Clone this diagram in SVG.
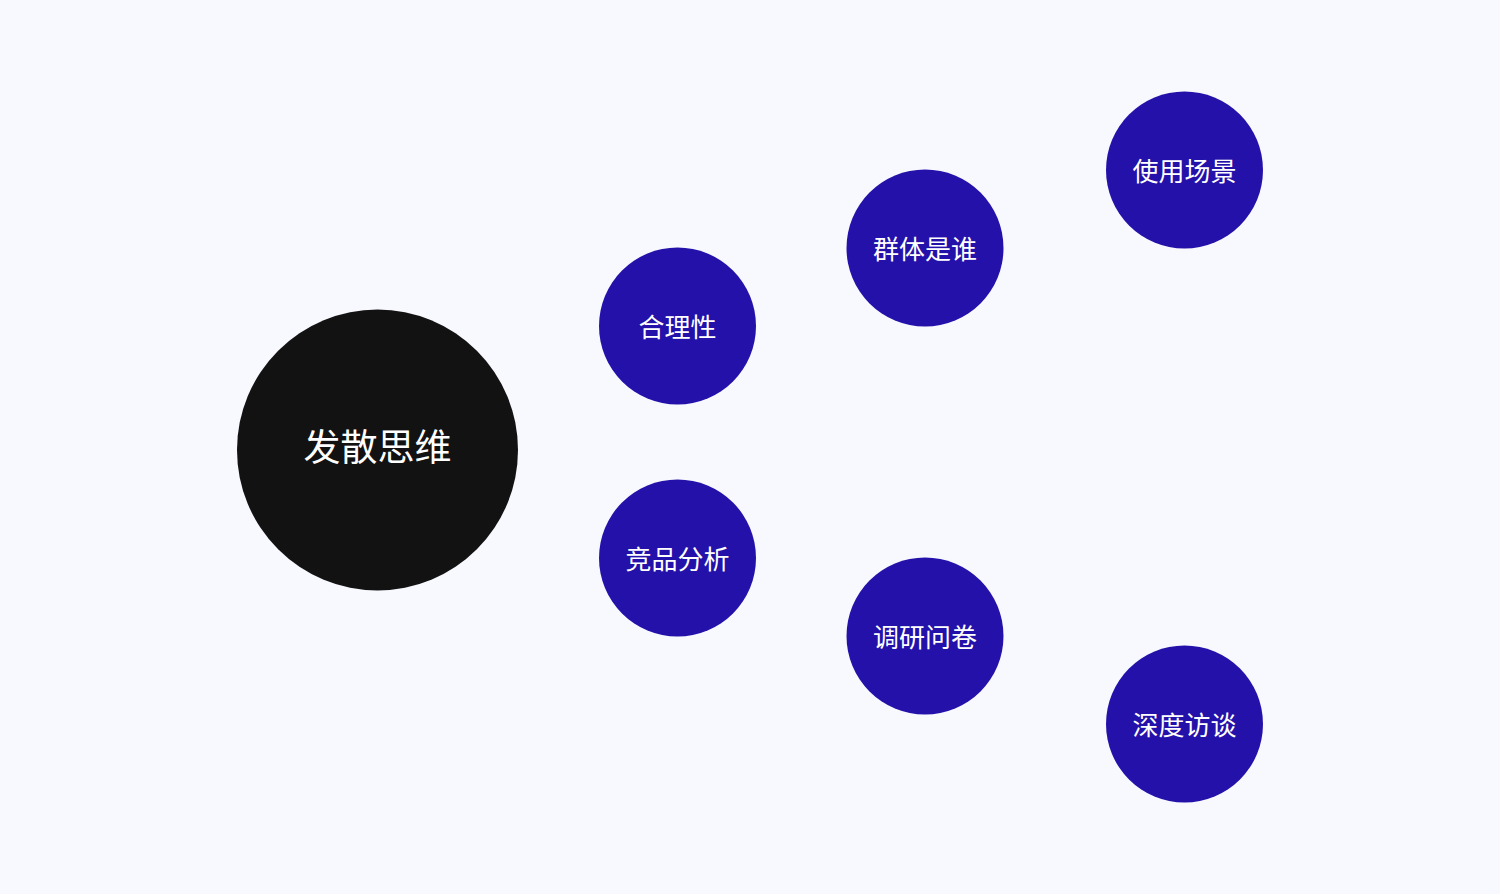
<svg xmlns="http://www.w3.org/2000/svg" width="1500" height="894" viewBox="0 0 1500 894">
<style>
.bg{fill:#F8F9FE}
.main{fill:#121212}
.sub{fill:#2411A9}
text{font-family:"Noto Sans CJK SC","Noto Sans",sans-serif;fill:#FFFFFF;text-anchor:middle;dominant-baseline:central}
.tm{font-size:37px}
.ts{font-size:26px}
</style>
<rect class="bg" x="0" y="0" width="1500" height="894"/>
<g id="connectors"></g>
<g id="node-main"><circle class="main" cx="377.5" cy="450" r="140.5"/><text class="tm" x="377.5" y="445">发散思维</text></g>
<g id="node-heliyang"><circle class="sub" cx="677.5" cy="326" r="78.5"/><text class="ts" x="677.5" y="325">合理性</text></g>
<g id="node-jingpin"><circle class="sub" cx="677.5" cy="558" r="78.5"/><text class="ts" x="677.5" y="557">竞品分析</text></g>
<g id="node-qunti"><circle class="sub" cx="925" cy="248" r="78.5"/><text class="ts" x="925" y="247">群体是谁</text></g>
<g id="node-diaoyan"><circle class="sub" cx="925" cy="636" r="78.5"/><text class="ts" x="925" y="635">调研问卷</text></g>
<g id="node-shiyong"><circle class="sub" cx="1184.5" cy="170" r="78.5"/><text class="ts" x="1184.5" y="169">使用场景</text></g>
<g id="node-shendu"><circle class="sub" cx="1184.5" cy="724" r="78.5"/><text class="ts" x="1184.5" y="723">深度访谈</text></g>
</svg>
